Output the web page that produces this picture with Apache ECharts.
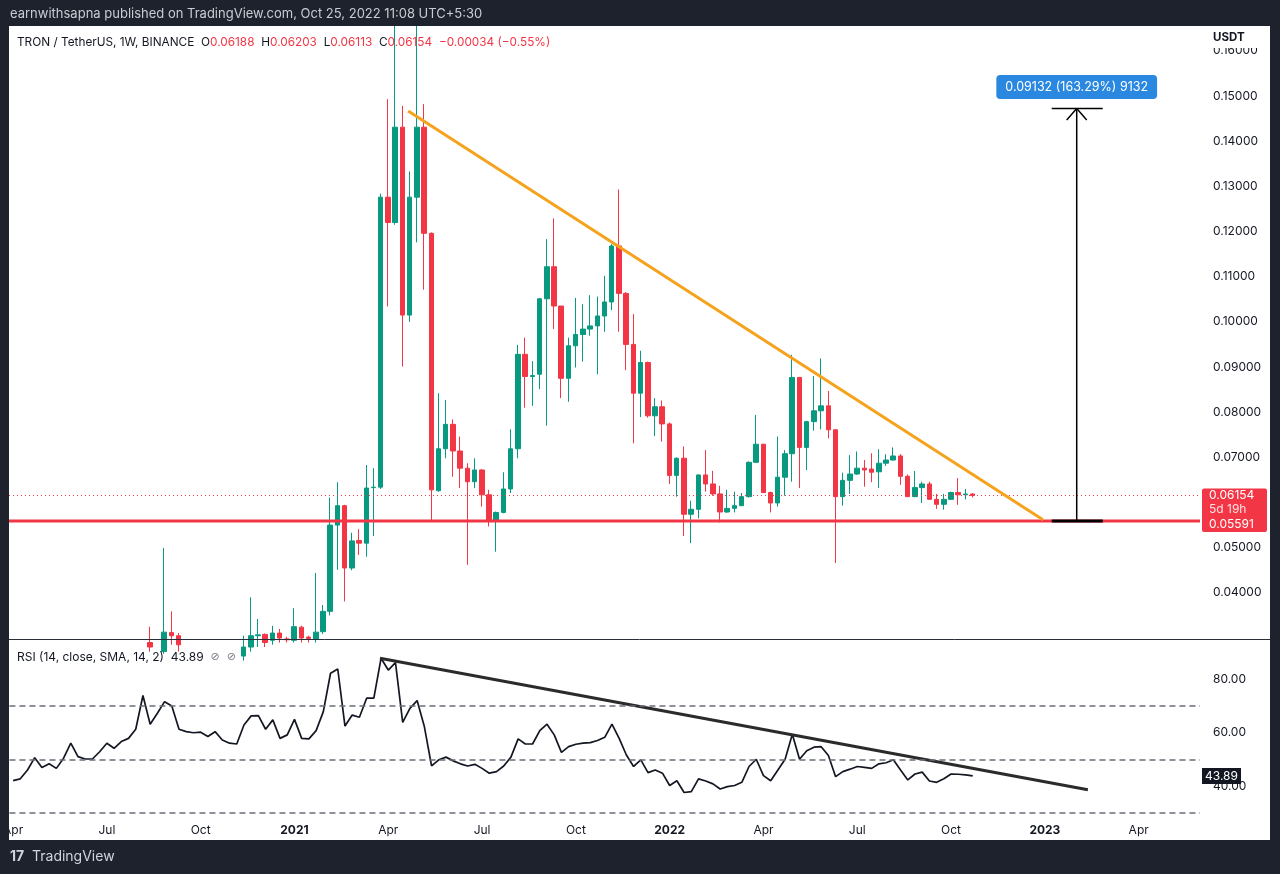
<!DOCTYPE html>
<html>
<head>
    <meta charset="utf-8">
    <title>TRON / TetherUS, 1W</title>
    <script src="https://cdn.jsdelivr.net/npm/echarts@6/dist/echarts.min.js"></script>
    <style>
        html, body { margin: 0; padding: 0; background: #1e222d; }
        #chart { width: 1280px; height: 874px; }
    </style>
</head>
<body>
<div id="chart"></div>
<script type="text/javascript">
    // weekly bars, first category = week of 2020-04-06
    const firstWeek = Date.UTC(2020, 3, 6);
    const weekCount = 165;
    const weeks = [];
    for (let i = 0; i < weekCount; i++) {
        weeks.push(new Date(firstWeek + i * 7 * 86400000).toISOString().slice(0, 10));
    }

    // [open, close, low, high]; null = bar entirely below the visible price range
    const ohlc = [
        null, null, null, null, null, null, null, null, null, null,
        null, null, null, null, null, null, null, null, null,
        [0.0290, 0.0280, 0.0270, 0.0325],
        null,
        [0.0270, 0.0313, 0.0265, 0.0499],
        [0.0312, 0.0305, 0.0285, 0.0359],
        [0.0305, 0.0285, 0.0270, 0.0311],
        null, null, null, null, null, null, null, null,
        [0.0260, 0.0280, 0.0250, 0.0305],
        [0.0280, 0.0305, 0.0270, 0.0390],
        [0.0305, 0.0307, 0.0280, 0.0342],
        [0.0308, 0.0290, 0.0280, 0.0310],
        [0.0295, 0.0311, 0.0285, 0.0327],
        [0.0311, 0.0300, 0.0290, 0.0320],
        [0.0298, 0.0296, 0.0290, 0.0303],
        [0.0295, 0.0325, 0.0290, 0.0366],
        [0.0324, 0.0300, 0.0290, 0.0327],
        [0.0302, 0.0299, 0.0290, 0.0305],
        [0.0298, 0.0313, 0.0290, 0.0444],
        [0.0314, 0.0359, 0.0309, 0.0373],
        [0.0359, 0.0550, 0.0350, 0.0611],
        [0.0550, 0.0593, 0.0451, 0.0645],
        [0.0593, 0.0455, 0.0381, 0.0595],
        [0.0455, 0.0515, 0.0450, 0.0533],
        [0.0516, 0.0510, 0.0484, 0.0541],
        [0.0510, 0.0632, 0.0480, 0.0683],
        [0.0633, 0.0634, 0.0526, 0.0676],
        [0.0634, 0.1276, 0.0630, 0.1284],
        [0.1276, 0.1220, 0.1034, 0.1493],
        [0.1220, 0.1431, 0.1215, 0.1800],
        [0.1431, 0.1015, 0.0901, 0.1478],
        [0.1015, 0.1276, 0.1000, 0.1333],
        [0.1276, 0.1431, 0.1176, 0.1800],
        [0.1431, 0.1196, 0.1071, 0.1482],
        [0.1196, 0.0628, 0.0560, 0.1198],
        [0.0626, 0.0719, 0.0624, 0.0842],
        [0.0719, 0.0773, 0.0698, 0.0827],
        [0.0773, 0.0714, 0.0657, 0.0784],
        [0.0714, 0.0676, 0.0632, 0.0746],
        [0.0676, 0.0646, 0.0462, 0.0687],
        [0.0646, 0.0672, 0.0632, 0.0698],
        [0.0672, 0.0617, 0.0591, 0.0674],
        [0.0617, 0.0558, 0.0547, 0.0628],
        [0.0558, 0.0578, 0.0491, 0.0580],
        [0.0578, 0.0630, 0.0576, 0.0667],
        [0.0630, 0.0719, 0.0621, 0.0762],
        [0.0719, 0.0928, 0.0698, 0.0949],
        [0.0928, 0.0879, 0.0810, 0.0965],
        [0.0879, 0.0881, 0.0814, 0.0913],
        [0.0884, 0.1051, 0.0851, 0.1053],
        [0.1051, 0.1122, 0.0770, 0.1183],
        [0.1122, 0.1035, 0.0984, 0.1229],
        [0.1035, 0.0875, 0.0831, 0.1035],
        [0.0875, 0.0947, 0.0823, 0.0965],
        [0.0947, 0.0972, 0.0899, 0.1053],
        [0.0972, 0.0984, 0.0912, 0.1039],
        [0.0984, 0.0991, 0.0969, 0.1059],
        [0.0991, 0.1013, 0.0884, 0.1056],
        [0.1013, 0.1044, 0.0978, 0.1102],
        [0.1044, 0.1168, 0.1026, 0.1172],
        [0.1168, 0.1063, 0.0978, 0.1293],
        [0.1063, 0.0950, 0.0893, 0.1066],
        [0.0950, 0.0842, 0.0731, 0.1017],
        [0.0842, 0.0910, 0.0789, 0.0936],
        [0.0910, 0.0792, 0.0788, 0.0912],
        [0.0792, 0.0812, 0.0747, 0.0831],
        [0.0812, 0.0774, 0.0735, 0.0826],
        [0.0774, 0.0660, 0.0641, 0.0777],
        [0.0660, 0.0698, 0.0613, 0.0700],
        [0.0698, 0.0574, 0.0526, 0.0724],
        [0.0574, 0.0585, 0.0510, 0.0604],
        [0.0585, 0.0661, 0.0565, 0.0662],
        [0.0661, 0.0641, 0.0624, 0.0716],
        [0.0641, 0.0619, 0.0615, 0.0670],
        [0.0619, 0.0579, 0.0556, 0.0637],
        [0.0579, 0.0587, 0.0577, 0.0628],
        [0.0587, 0.0593, 0.0578, 0.0624],
        [0.0593, 0.0613, 0.0592, 0.0621],
        [0.0613, 0.0689, 0.0611, 0.0691],
        [0.0689, 0.0729, 0.0688, 0.0794],
        [0.0729, 0.0622, 0.0621, 0.0730],
        [0.0622, 0.0599, 0.0578, 0.0624],
        [0.0599, 0.0656, 0.0591, 0.0746],
        [0.0656, 0.0708, 0.0615, 0.0716],
        [0.0708, 0.0877, 0.0646, 0.0927],
        [0.0877, 0.0722, 0.0632, 0.0878],
        [0.0722, 0.0779, 0.0672, 0.0781],
        [0.0779, 0.0803, 0.0759, 0.0880],
        [0.0803, 0.0814, 0.0762, 0.0919],
        [0.0814, 0.0761, 0.0742, 0.0847],
        [0.0761, 0.0613, 0.0466, 0.0761],
        [0.0613, 0.0649, 0.0593, 0.0666],
        [0.0649, 0.0663, 0.0619, 0.0705],
        [0.0663, 0.0676, 0.0661, 0.0713],
        [0.0676, 0.0672, 0.0635, 0.0694],
        [0.0674, 0.0667, 0.0645, 0.0709],
        [0.0668, 0.0687, 0.0632, 0.0718],
        [0.0687, 0.0694, 0.0681, 0.0707],
        [0.0694, 0.0703, 0.0693, 0.0722],
        [0.0703, 0.0658, 0.0639, 0.0707],
        [0.0658, 0.0613, 0.0612, 0.0662],
        [0.0613, 0.0633, 0.0612, 0.0670],
        [0.0633, 0.0641, 0.0599, 0.0646],
        [0.0641, 0.0607, 0.0606, 0.0646],
        [0.0607, 0.0596, 0.0586, 0.0619],
        [0.0596, 0.0607, 0.0584, 0.0619],
        [0.0607, 0.0622, 0.0606, 0.0624],
        [0.0622, 0.0617, 0.0595, 0.0654],
        [0.0617, 0.06188, 0.0607, 0.0630],
        [0.06188, 0.06154, 0.06113, 0.06203]
    ];

    // RSI(14) per week, same index as ohlc
    const rsi = [
        42.1, 42.8, 46.1, 50.7, 47.0, 48.4, 46.7, 50.5, 56.1, 51.1,
        50.2, 50.2, 52.9, 56.1, 54.2, 56.7, 57.9, 61.3, 73.9, 63.2,
        67.3, 71.6, 70.0, 61.3, 60.4, 60.0, 60.2, 58.6, 60.4, 57.3,
        56.1, 55.8, 62.9, 66.3, 66.4, 61.3, 64.8, 57.9, 59.2, 65.0,
        57.9, 57.7, 60.8, 67.9, 82.2, 83.8, 62.5, 66.6, 65.8, 72.9,
        72.9, 87.8, 83.4, 86.2, 63.9, 69.1, 72.0, 62.3, 47.6, 49.9,
        50.9, 49.5, 48.4, 47.6, 48.2, 46.7, 44.9, 45.5, 47.6, 50.9,
        57.7, 55.8, 55.8, 60.8, 63.2, 59.2, 52.7, 54.8, 55.7, 56.1,
        56.3, 57.1, 58.3, 63.2, 57.9, 51.7, 47.4, 49.9, 45.1, 46.1,
        44.9, 40.3, 42.1, 37.7, 38.0, 42.8, 42.0, 40.9, 39.0, 39.9,
        40.3, 41.5, 47.4, 50.1, 44.0, 42.1, 46.1, 50.1, 59.4, 50.1,
        53.3, 54.6, 54.8, 51.5, 43.6, 45.5, 46.4, 47.4, 47.1, 46.7,
        48.4, 48.8, 49.9, 46.1, 42.4, 44.6, 45.3, 42.0, 41.5, 42.8,
        44.6, 44.5, 44.3, 43.89
    ];

    const priceTicks = [0.04, 0.05, 0.07, 0.08, 0.09, 0.10, 0.11, 0.12, 0.13, 0.14, 0.15, 0.16];
    const rsiTicks = [40, 60, 80];
    const rsiLevels = [70, 50, 30];

    // drawings (x in bar index units)
    const supportLevel = 0.05591;
    const priceTrend = [[54.8, 0.1467], [142.75, 0.05616]];
    const rsiTrend = [[50.85, 87.8], [148.96, 38.7]];
    const measureX = 147.42;
    const measureSpan = [143.96, 151.03];
    const measureTop = 0.14723;
    const measureText = '0.09132 (163.29%) 9132';

    const publishedText = 'earnwithsapna published on TradingView.com, Oct 25, 2022 11:08 UTC+5:30';
    const monthNames = ['Jan', 'Feb', 'Mar', 'Apr', 'May', 'Jun', 'Jul', 'Aug', 'Sep', 'Oct', 'Nov', 'Dec'];

    const UP = '#089981', DOWN = '#f23645', INK = '#131722';
    const FONT = 'Inter';

    const last = ohlc[ohlc.length - 1];
    const prevClose = ohlc[ohlc.length - 2][1];
    const lastClose = last[1];
    const lastRsi = rsi[rsi.length - 1];
    const change = lastClose - prevClose;

    const barData = ohlc.map(function (d) { return d ? d : ['-', '-', '-', '-']; });
    const fullSpan = [-0.5, weekCount - 0.5];

    function quarterStart(v) {
        const m = +v.slice(5, 7) - 1, day = +v.slice(8, 10);
        return m % 3 === 0 && day <= 7;
    }

    function seg(points, color, width, type, z) {
        return {
            type: 'line', xAxisIndex: 2, yAxisIndex: 0, data: points,
            symbol: 'none', silent: true, z: z || 5,
            lineStyle: { color: color, width: width, type: type || 'solid' }
        };
    }

    const option = {
        animation: false,
        backgroundColor: '#ffffff',
        textStyle: { fontFamily: FONT },
        grid: [
            { left: 9, right: 80, top: 26, height: 612 },
            { left: 9, right: 80, top: 641, height: 178 }
        ],
        xAxis: [
            { type: 'category', gridIndex: 0, data: weeks, axisLine: { show: false }, axisTick: { show: false }, axisLabel: { show: false }, splitLine: { show: false } },
            {
                type: 'category', gridIndex: 1, data: weeks,
                axisLine: { show: false }, axisTick: { show: false }, splitLine: { show: false },
                axisLabel: {
                    interval: function (i, v) { return quarterStart(v); },
                    formatter: function (v) {
                        const m = +v.slice(5, 7) - 1;
                        return m === 0 ? '{y|' + v.slice(0, 4) + '}' : monthNames[m];
                    },
                    rich: { y: { fontWeight: 'bold', fontSize: 12, color: INK, fontFamily: FONT } },
                    color: INK, fontSize: 12, fontFamily: FONT, margin: 5
                }
            },
            { type: 'value', gridIndex: 0, min: fullSpan[0], max: fullSpan[1], show: false },
            { type: 'value', gridIndex: 1, min: fullSpan[0], max: fullSpan[1], show: false }
        ],
        yAxis: [
            {
                type: 'value', gridIndex: 0, position: 'right', min: 0.030, max: 0.1655,
                axisLine: { show: false }, axisTick: { show: false }, splitLine: { show: false },
                axisLabel: {
                    customValues: priceTicks, margin: 13, color: INK, fontSize: 12, fontFamily: FONT,
                    formatter: function (v) { return v.toFixed(5); }
                }
            },
            {
                type: 'value', gridIndex: 1, position: 'right', min: 27.8, max: 94.25,
                axisLine: { show: false }, axisTick: { show: false }, splitLine: { show: false },
                axisLabel: {
                    customValues: rsiTicks, margin: 13, color: INK, fontSize: 12, fontFamily: FONT,
                    formatter: function (v) { return v.toFixed(2); }
                }
            }
        ],
        series: [
            {
                type: 'candlestick', xAxisIndex: 0, yAxisIndex: 0, data: barData,
                barWidth: 5, clip: true,
                itemStyle: { color: UP, color0: DOWN, borderColor: UP, borderColor0: DOWN, borderWidth: 1 }
            },
            seg([[fullSpan[0], lastClose], [fullSpan[1], lastClose]], DOWN, 1, [1, 3], 3),
            seg([[fullSpan[0], supportLevel], [fullSpan[1], supportLevel]], DOWN, 3, 'solid', 4),
            seg(priceTrend, '#f5a31d', 3, 'solid', 4),
            seg([[measureSpan[0], supportLevel], [measureSpan[1], supportLevel]], '#000000', 3),
            seg([[measureX, supportLevel], [measureX, measureTop]], '#000000', 1.5),
            seg([[measureSpan[0], measureTop], [measureSpan[1], measureTop]], '#000000', 1.5),
            seg([[measureX - 1.39, 0.14469], [measureX, measureTop], [measureX + 1.39, 0.14469]], '#000000', 1.5),
            {
                type: 'scatter', xAxisIndex: 2, yAxisIndex: 0, data: [[measureX, 0.1520]],
                symbolSize: 1, itemStyle: { color: 'rgba(0,0,0,0)', opacity: 1 }, silent: true, z: 6,
                label: {
                    show: true, position: 'inside', formatter: measureText, opacity: 1,
                    color: '#ffffff', fontSize: 12.5, fontFamily: FONT,
                    backgroundColor: '#2a88e0', borderRadius: 4, padding: [6, 9, 5, 9]
                }
            },
            {
                type: 'line', xAxisIndex: 1, yAxisIndex: 1, data: rsi,
                symbol: 'none', silent: true,
                lineStyle: { color: INK, width: 1.7 },
                markLine: {
                    silent: true, symbol: ['none', 'none'], label: { show: false },
                    lineStyle: { color: '#6a6d78', width: 1.5, type: [6, 4] },
                    data: rsiLevels.map(function (v) { return { yAxis: v }; })
                }
            },
            {
                type: 'line', xAxisIndex: 3, yAxisIndex: 1, data: rsiTrend,
                symbol: 'none', silent: true, z: 4,
                lineStyle: { color: '#2b2b2b', width: 3 }
            }
        ]
    };

    const chart = echarts.init(document.getElementById('chart'));
    chart.setOption(option);

    const yClose = chart.convertToPixel({ yAxisIndex: 0 }, lastClose);
    const ySupport = chart.convertToPixel({ yAxisIndex: 0 }, supportLevel);
    const yRsi = chart.convertToPixel({ yAxisIndex: 1 }, lastRsi);

    function txt(x, y, text, font, fill, extra) {
        const el = {
            type: 'text', x: x, y: y, z: 110,
            style: { text: text, font: font, fill: fill, verticalAlign: 'middle', textVerticalAlign: 'middle' }
        };
        if (extra) Object.assign(el.style, extra);
        return el;
    }

    const dark = '#1e222d';
    const fmt = function (v) { return v.toFixed(5); };
    const sign = change < 0 ? '\u2212' : '+';
    const legend = '{n|TRON / TetherUS, 1W, BINANCE}  ' +
        '{n|O}{v|' + fmt(last[0]) + '}  {n|H}{v|' + fmt(last[3]) + '}  ' +
        '{n|L}{v|' + fmt(last[2]) + '}  {n|C}{v|' + fmt(last[1]) + '}  ' +
        '{v|' + sign + fmt(Math.abs(change)) + ' (' + sign + (Math.abs(change) / prevClose * 100).toFixed(2) + '%)}';

    chart.setOption({
        graphic: [
            { type: 'rect', z: 100, shape: { x: 0, y: 0, width: 1280, height: 26 }, style: { fill: dark } },
            { type: 'rect', z: 100, shape: { x: 0, y: 26, width: 9, height: 814 }, style: { fill: dark } },
            { type: 'rect', z: 100, shape: { x: 1270, y: 26, width: 10, height: 814 }, style: { fill: dark } },
            { type: 'rect', z: 100, shape: { x: 0, y: 840, width: 1280, height: 34 }, style: { fill: dark } },
            txt(10, 14, publishedText, '13px ' + FONT, '#c9ccd3'),
            txt(10, 857, '17', 'bold 14px ' + FONT, '#d1d4dc'),
            txt(32, 857, 'TradingView', '14px ' + FONT, '#d1d4dc'),
            { type: 'line', z: 90, shape: { x1: 9, y1: 639.5, x2: 1270, y2: 639.5 }, style: { stroke: '#2a2e39', lineWidth: 1 } },
            { type: 'rect', z: 95, shape: { x: 1201, y: 26, width: 69, height: 22 }, style: { fill: '#ffffff' } },
            txt(1213, 38, 'USDT', 'bold 11.5px ' + FONT, INK),
            txt(17, 42, legend, '12px ' + FONT, INK, {
                rich: {
                    n: { fill: INK, fontSize: 11.8, fontFamily: FONT },
                    v: { fill: DOWN, fontSize: 11.8, fontFamily: FONT }
                }
            }),
            txt(17, 657, 'RSI (14, close, SMA, 14, 2)  ' + lastRsi.toFixed(2) + '  {g|\u2298  \u2298}', '12px ' + FONT, INK, {
                rich: { g: { fill: '#787b86', fontSize: 11, fontFamily: 'DejaVu Sans' } }
            }),
            { type: 'rect', z: 105, shape: { x: 1202, y: yClose - 7, width: 65, height: ySupport - yClose + 18, r: 2 }, style: { fill: DOWN } },
            txt(1209, yClose, fmt(lastClose), '12px ' + FONT, '#ffffff'),
            txt(1209, yClose + 13.5, '5d 19h', '12px ' + FONT, '#ffe0e3'),
            txt(1209, ySupport + 3.5, fmt(supportLevel), '12px ' + FONT, '#ffffff'),
            { type: 'rect', z: 105, shape: { x: 1202, y: yRsi - 8, width: 39, height: 16 }, style: { fill: INK } },
            txt(1205, yRsi, lastRsi.toFixed(2), '12px ' + FONT, '#ffffff')
        ]
    });
</script>
</body>
</html>
